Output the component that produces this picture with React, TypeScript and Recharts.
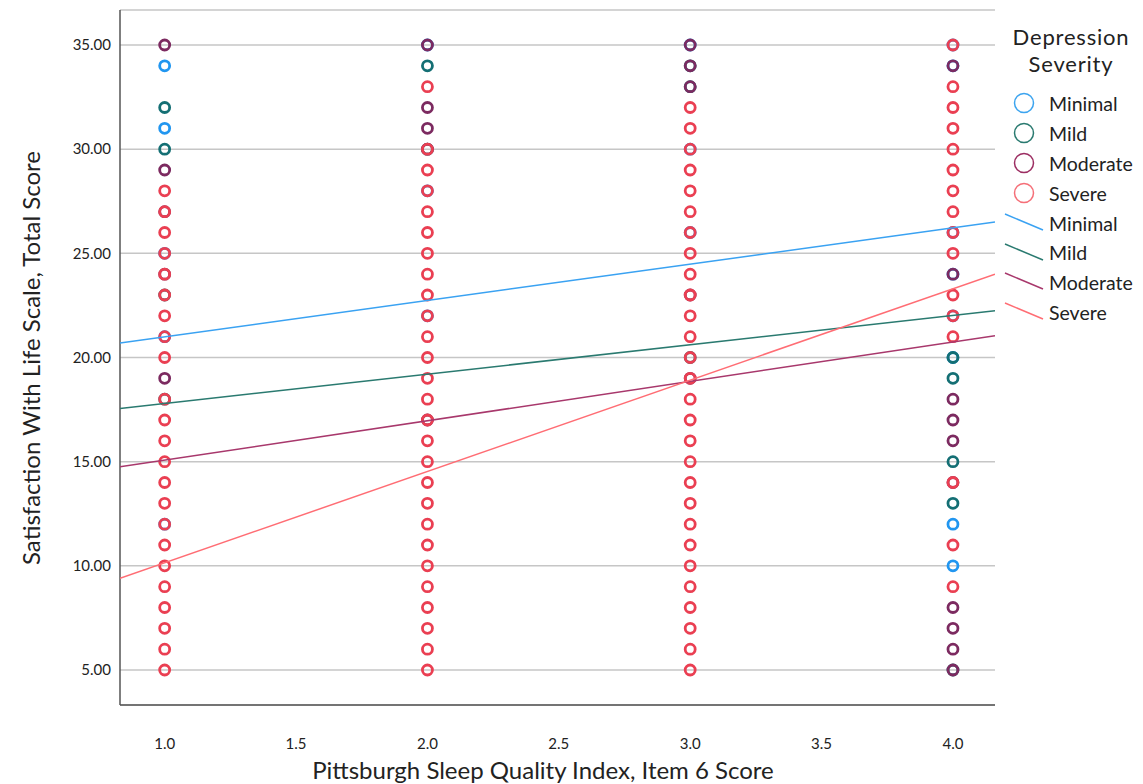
import React from 'react';
import { ScatterChart, Scatter, XAxis, YAxis, CartesianGrid } from 'recharts';

const X_LEVELS = [1, 2, 3, 4];
const X_TICKS = [1, 1.5, 2, 2.5, 3, 3.5, 4];
const Y_TICKS = [5, 10, 15, 20, 25, 30, 35];

// observed scores at each sleep-quality level (one list per x level)
const MINIMAL_Y = [
  [34, 31, 21, 25, 12],
  [35, 28, 22],
  [35, 30, 26],
  [35, 34, 26, 24, 22, 20, 12, 10],
];
const MILD_Y = [
  [32, 30, 18, 23],
  [34, 30],
  [34, 33, 20],
  [20, 19, 15, 13, 5],
];
const MODERATE_Y = [
  [35, 29, 19, 24, 27],
  [35, 32, 31, 30, 17],
  [35, 34, 33, 19, 23],
  [34, 24, 18, 17, 16, 14, 8, 7, 6, 5],
];
const SEVERE_Y = [
  [28, 27, 26, 25, 24, 23, 22, 21, 20, 18, 17, 16, 15, 14, 13, 12, 11, 10, 9, 8, 7, 6, 5],
  [33, 30, 29, 28, 27, 26, 25, 24, 23, 22, 21, 20, 19, 18, 17, 16, 15, 14, 13, 12, 11, 10, 9, 8, 7, 6, 5],
  [32, 31, 30, 29, 28, 27, 26, 25, 24, 23, 22, 21, 20, 19, 18, 17, 16, 15, 14, 13, 12, 11, 10, 9, 8, 7, 6, 5],
  [35, 33, 32, 31, 30, 29, 28, 27, 26, 25, 23, 22, 21, 14, 11, 9],
];

// fit line end points at the plot edges
const FIT_X = [0.83, 4.16];
const MINIMAL_FIT = [20.7, 26.5];
const MILD_FIT = [17.55, 22.25];
const MODERATE_FIT = [14.75, 21.05];
const SEVERE_FIT = [9.4, 24.0];

const GROUPS = [
  { name: 'Minimal', ys: MINIMAL_Y, fit: MINIMAL_FIT, dot: '#2196f0', line: '#3aa2f2', key: '#3ca4ef' },
  { name: 'Mild', ys: MILD_Y, fit: MILD_FIT, dot: '#146f74', line: '#2a7a70', key: '#2a7a70' },
  { name: 'Moderate', ys: MODERATE_Y, fit: MODERATE_FIT, dot: '#7c2a60', line: '#a8386c', key: '#9c2e62' },
  { name: 'Severe', ys: SEVERE_Y, fit: SEVERE_FIT, dot: '#ea3f52', line: '#ff6d74', key: '#f56f78' },
];

const FONT = "Lato, 'Open Sans', sans-serif";

const toPoints = (ys: number[][]) =>
  ys.flatMap((list, i) => list.map((y) => ({ x: X_LEVELS[i], y })));

const toFit = (fit: number[]) => FIT_X.map((x, i) => ({ x, y: fit[i] }));

const ring = (color: string) => (props: any) => (
  <circle cx={props.cx} cy={props.cy} r={5} fill="none" stroke={color} strokeWidth={2.8} />
);

const Nothing = () => <g />;

export default function App() {
  return (
    <div style={{ position: 'absolute', left: 0, top: 0, width: 1143, height: 784, fontFamily: FONT, background: '#fff' }}>
      <ScatterChart width={1143} height={784} margin={{ top: 10, right: 148, bottom: 0, left: 0 }}>
        <CartesianGrid horizontal vertical={false} stroke="#c6c6c6" strokeWidth={1.5} />
        <XAxis
          type="number"
          dataKey="x"
          domain={[0.83, 4.16]}
          ticks={X_TICKS}
          allowDataOverflow
          height={79}
          tickLine={false}
          tickSize={6}
          tickMargin={27}
          axisLine={{ stroke: '#555', strokeWidth: 1.5 }}
          tick={{ fontSize: 15, fill: '#222', fontFamily: FONT }}
          tickFormatter={(v: number) => v.toFixed(1)}
        />
        <YAxis
          type="number"
          dataKey="y"
          domain={[3.32, 36.68]}
          ticks={Y_TICKS}
          allowDataOverflow
          width={120}
          tickLine={false}
          tickSize={6}
          tickMargin={3}
          axisLine={{ stroke: '#555', strokeWidth: 1.5 }}
          tick={{ fontSize: 15, fill: '#222', fontFamily: FONT }}
          tickFormatter={(v: number) => v.toFixed(2)}
        />
        {GROUPS.map((g) => (
          <Scatter
            key={g.name}
            name={g.name}
            data={toPoints(g.ys)}
            shape={ring(g.dot)}
            isAnimationActive={false}
          />
        ))}
        {GROUPS.map((g) => (
          <Scatter
            key={g.name + '-fit'}
            name={g.name + ' fit'}
            data={toFit(g.fit)}
            line={{ stroke: g.line, strokeWidth: 1.5 }}
            shape={Nothing}
            isAnimationActive={false}
          />
        ))}
      </ScatterChart>

      <div
        style={{
          position: 'absolute', left: 30, top: 358, transform: 'translate(-50%, -50%) rotate(-90deg)',
          whiteSpace: 'nowrap', fontSize: 24, color: '#222',
        }}
      >
        Satisfaction With Life Scale, Total Score
      </div>
      <div
        style={{
          position: 'absolute', left: 543, top: 769, transform: 'translate(-50%, -50%)',
          whiteSpace: 'nowrap', fontSize: 24, color: '#222',
        }}
      >
        Pittsburgh Sleep Quality Index, Item 6 Score
      </div>

      <div
        style={{
          position: 'absolute', left: 1071, top: 50, transform: 'translate(-50%, -50%)',
          textAlign: 'center', fontSize: 22, lineHeight: '27px', letterSpacing: 0.8,
          color: '#222', whiteSpace: 'nowrap',
        }}
      >
        Depression<br />Severity
      </div>
      {GROUPS.map((g, i) => (
        <div key={'c' + g.name} style={{ position: 'absolute', left: 1012, top: 103 + i * 30 - 12, height: 24, display: 'flex', alignItems: 'center' }}>
          <svg width={24} height={24}>
            <circle cx={12} cy={12} r={9.5} fill="none" stroke={g.key} strokeWidth={1.5} />
          </svg>
          <span style={{ marginLeft: 13, fontSize: 19.5, color: '#222', whiteSpace: 'nowrap' }}>{g.name}</span>
        </div>
      ))}
      {GROUPS.map((g, i) => (
        <div key={'l' + g.name} style={{ position: 'absolute', left: 1004, top: 223 + i * 29.7 - 12, height: 24, display: 'flex', alignItems: 'center' }}>
          <svg width={42} height={24}>
            <line x1={1} y1={3} x2={39} y2={19} stroke={g.line} strokeWidth={1.5} />
          </svg>
          <span style={{ marginLeft: 3, fontSize: 19.5, color: '#222', whiteSpace: 'nowrap' }}>{g.name}</span>
        </div>
      ))}
    </div>
  );
}
